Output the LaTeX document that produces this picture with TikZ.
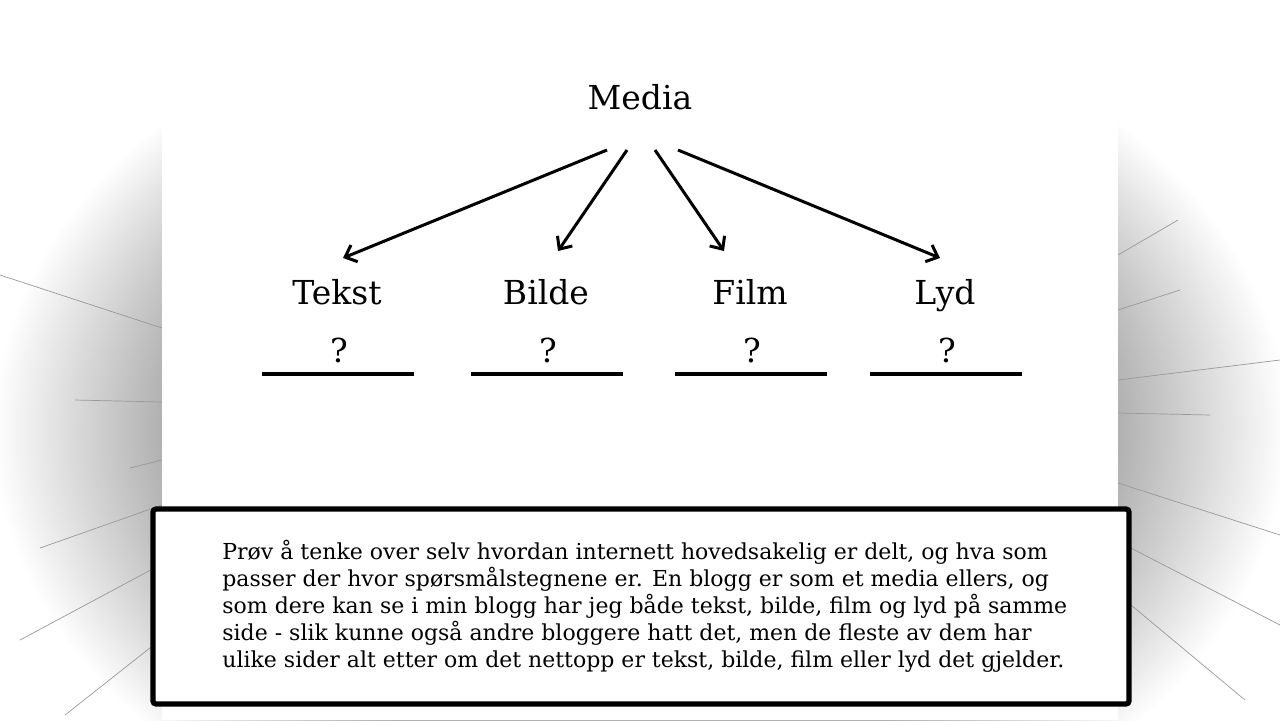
\documentclass[tikz,border=0pt]{standalone}
\usepackage{fontspec}
\setmainfont{DejaVu Serif}
\usetikzlibrary{arrows.meta,calc}
\pgfdeclareradialshading{slideglow}{\pgfpoint{0bp}{0bp}}{color(0bp)=(black!31); color(17.5bp)=(black!31); color(23.8bp)=(white); color(50bp)=(white)}
\begin{document}
\begin{tikzpicture}[x=0.5pt, y=-0.5pt,
        heading/.style={font=\fontsize{16.5}{20}\selectfont, inner sep=0pt, anchor=base},
        link/.style={line width=1.5pt, -{Straight Barb[length=5pt, width=9pt]}},
        blank/.style={line width=1.6pt},
        ray/.style={black!40, line width=0.35pt},
        notebox/.style={draw, line width=2.6pt, fill=white, rounded corners=1.5pt}]
    \useasboundingbox (0,0) rectangle (1280,720);
    % one column: label, question mark and the line under it
    \newcommand{\mediacolumn}[3]{
        \node[heading] (#1) at (#2,304) {#3};
        \node[heading] (#1q) at ($(#1.base)+(2,58)$) {?};
        \draw[blank] ($(#1.base)+(-75,70)$) -- ($(#1.base)+(77,70)$);
    }

    % grey glow and rays behind the slide
    \begin{scope}
        \clip (0,0) rectangle (1280,720);
        \shade[shading=slideglow] (640,430) ellipse [x radius=340pt, y radius=240pt];
        \foreach \ax/\ay/\bx/\by in {0/275/162/328, 75/400/162/402, 130/468/162/460,
                40/548/162/505, 20/640/160/565, 65/715/160/640,
                1118/255/1178/220, 1118/310/1180/290, 1118/380/1280/360, 1118/413/1210/415,
                1118/483/1280/535, 1125/545/1280/625, 1125/600/1245/700}
            \draw[ray] (\ax,\ay) -- (\bx,\by);
    \end{scope}
    \fill[white] (162,0) rectangle (1118,720);

    % the tree
    \node[heading] (media) at (640,109) {Media};
    \mediacolumn{tekst}{337}{Tekst}
    \mediacolumn{bilde}{546}{Bilde}
    \mediacolumn{film}{750}{Film}
    \mediacolumn{lyd}{945}{Lyd}
    \draw[link] ($(media.base)+(-33,41)$) -- ($(tekst.base)+(6,-46)$);
    \draw[link] ($(media.base)+(-13,41)$) -- ($(bilde.base)+(12,-53)$);
    \draw[link] ($(media.base)+(15,41)$) -- ($(film.base)+(-26,-53)$);
    \draw[link] ($(media.base)+(38,41)$) -- ($(lyd.base)+(-5,-46)$);

    % note at the bottom
    \draw[notebox] (153,509) rectangle (1129,704);
    \node[anchor=north west, inner sep=0pt, align=left,
        font=\fontsize{11}{13.5}\selectfont] (note) at (222,540)
        {Prøv å tenke over selv hvordan internett hovedsakelig er delt, og hva som\\
        passer der hvor spørsmålstegnene er. En blogg er som et media ellers, og\\
        som dere kan se i min blogg har jeg både tekst, bilde, film og lyd på samme\\
        side - slik kunne også andre bloggere hatt det, men de fleste av dem har\\
        ulike sider alt etter om det nettopp er tekst, bilde, film eller lyd det gjelder.};
\end{tikzpicture}
\end{document}
